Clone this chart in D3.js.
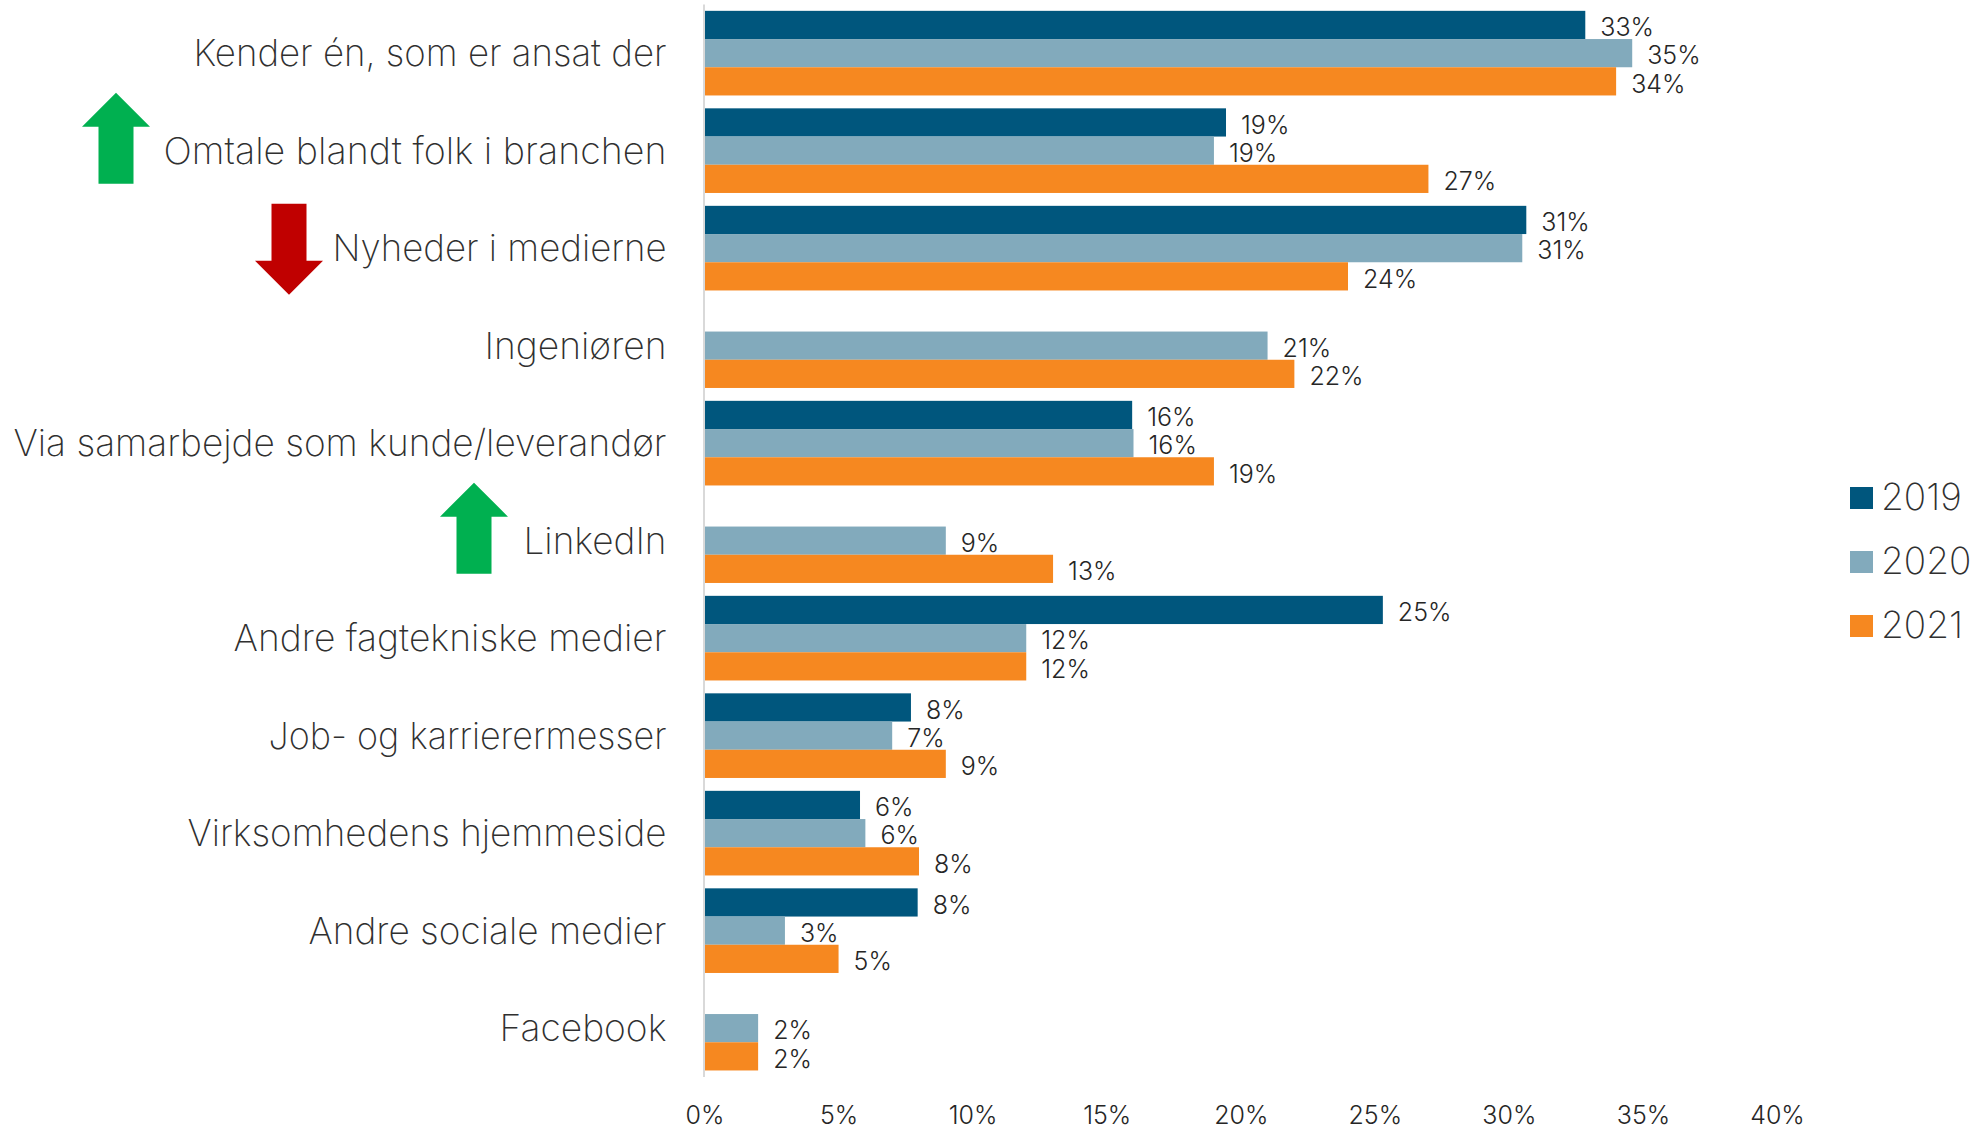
<!DOCTYPE html>
<html><head><meta charset="utf-8">
<script src="https://cdn.jsdelivr.net/npm/d3@7"></script>
<style>
html,body{margin:0;padding:0;background:#fff}
svg{display:block}
text{font-family:Inter,Roboto,sans-serif;font-weight:200;fill:#303030}
text.val{font-weight:300;fill:#262626}
</style></head><body>
<svg id="c" width="1977" height="1130"></svg>
<script>
const categories=["Kender én, som er ansat der","Omtale blandt folk i branchen","Nyheder i medierne","Ingeniøren","Via samarbejde som kunde/leverandør","LinkedIn","Andre fagtekniske medier","Job- og karrierermesser","Virksomhedens hjemmeside","Andre sociale medier","Facebook"];
const years=["2019","2020","2021"];
const values2019=[32.85,19.45,30.65,null,15.95,null,25.3,7.7,5.8,7.95,null];
const values2020=[34.6,19.0,30.5,21.0,16.0,9.0,12.0,7.0,6.0,3.0,2.0];
const values2021=[34.0,27.0,24.0,22.0,19.0,13.0,12.0,9.0,8.0,5.0,2.0];
const colors=["#00567D","#82AABC","#F68820"];
const xTicks=[0,5,10,15,20,25,30,35,40];
const arrowCategories=["Omtale blandt folk i branchen","Nyheder i medierne","LinkedIn"];
const arrowDirections=["up","down","up"];

// layout-only constants, separate from the data
const labelWidths=[473,503,334,182,653,143,433,398,479,358,167];
const arrowCenters=[116,289,474];
const arrowOffsets=[-12.5,1,-12.5];

const svg=d3.select("#c");
const x=d3.scaleLinear().domain([0,40]).range([704.5,1777]);
const y=d3.scaleBand().domain(categories).range([4.4,1076.9]).paddingInner(0.132).paddingOuter(0.066);
const series=[values2019,values2020,values2021];
const yr=d3.scaleBand().domain(years).range([0,y.bandwidth()]);
const fmt=v=>d3.format(".0f")(v)+"%";

const ax=svg.append("g").attr("transform","translate(0,1078)")
  .call(d3.axisBottom(x).tickValues(xTicks).tickFormat(d=>d+"%").tickSize(0).tickPadding(0));
ax.select(".domain").remove();
ax.selectAll("text").attr("class","val").attr("y",46).attr("dy",0).style("font-size","25px").style("font-family","Inter,Roboto,sans-serif");

years.forEach((yy,i)=>{
  const rows=categories.map((c,j)=>({c,v:series[i][j]})).filter(d=>d.v!==null);
  svg.append("g").selectAll("rect").data(rows).join("rect")
    .attr("x",x(0)).attr("y",d=>y(d.c)+yr(yy))
    .attr("width",d=>x(d.v)-x(0)).attr("height",yr.bandwidth())
    .attr("fill",colors[i]);
  svg.append("g").selectAll("text").data(rows).join("text").attr("class","val")
    .attr("x",d=>x(d.v)+15).attr("y",d=>y(d.c)+yr(yy)+yr.bandwidth()/2+4.5)
    .attr("dominant-baseline","middle").style("font-size","25px").text(d=>fmt(d.v));
});

svg.append("line").attr("x1",x(0)-0.5).attr("x2",x(0)-0.5).attr("y1",y.range()[0]).attr("y2",y.range()[1])
  .attr("stroke","#D9D9D9").attr("stroke-width",2);

svg.append("g").selectAll("text").data(categories).join("text")
  .attr("x",666.5).attr("y",d=>y(d)+y.bandwidth()/2+3)
  .attr("text-anchor","end").attr("dominant-baseline","middle")
  .attr("textLength",(d,i)=>labelWidths[i]).attr("lengthAdjust","spacingAndGlyphs")
  .style("font-size","37px").text(d=>d);

arrowCategories.forEach((c,i)=>{
  const up=arrowDirections[i]==="up";
  const cx=arrowCenters[i];
  const cy=y(c)+y.bandwidth()/2+arrowOffsets[i];
  const s=up?1:-1;
  const hw=34,sw=17.5,h=45.5;
  const pts=[[0,-h],[hw,-h+34],[sw,-h+34],[sw,h],[-sw,h],[-sw,-h+34],[-hw,-h+34]];
  svg.append("polygon").attr("points",pts.map(p=>[cx+p[0],cy+s*p[1]].join(",")).join(" "))
    .attr("fill",up?"#00B050":"#C00000");
});

years.forEach((yy,i)=>{
  const g=svg.append("g").attr("transform",`translate(1850,${487+i*64})`);
  g.append("rect").attr("width",23).attr("height",22).attr("fill",colors[i]);
  g.append("text").attr("x",31).attr("y",13).attr("dominant-baseline","middle").style("font-size","37px").text(yy);
});
</script></body></html>
